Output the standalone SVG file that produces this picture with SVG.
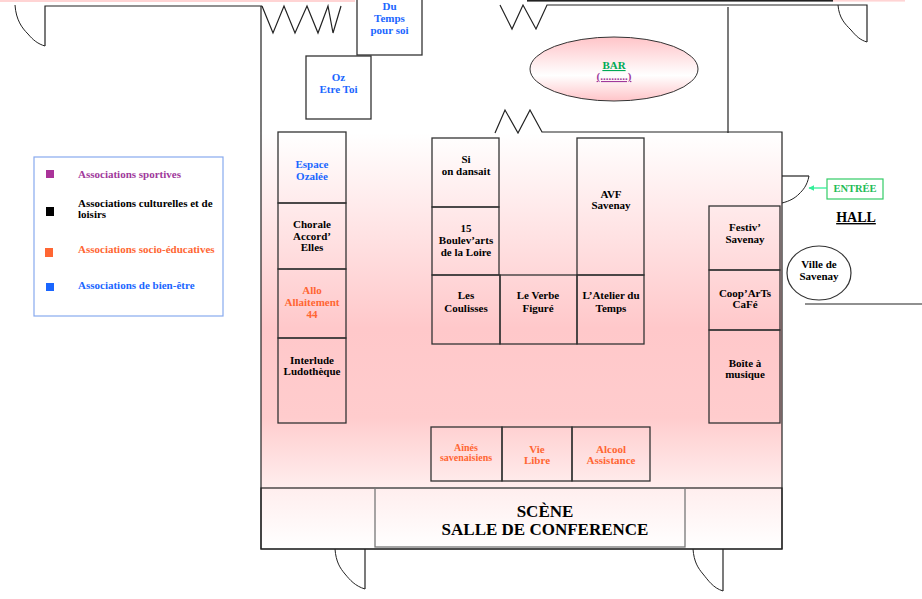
<svg xmlns="http://www.w3.org/2000/svg" width="922" height="599" viewBox="0 0 922 599">
<defs>
<linearGradient id="roomGrad" x1="0" y1="0" x2="0" y2="1">
<stop offset="0" stop-color="#ffffff"/>
<stop offset="0.55" stop-color="#ffc8ca"/>
<stop offset="0.8" stop-color="#ffcccd"/>
<stop offset="1" stop-color="#ffeeee"/>
</linearGradient>
<linearGradient id="stageGrad" x1="0" y1="0" x2="0" y2="1">
<stop offset="0" stop-color="#ffeeee"/>
<stop offset="1" stop-color="#ffffff"/>
</linearGradient>
<linearGradient id="barGrad" x1="0" y1="0" x2="0" y2="1">
<stop offset="0" stop-color="#ffc4c8"/>
<stop offset="0.6" stop-color="#ffffff"/>
<stop offset="1" stop-color="#ffc4c8"/>
</linearGradient>
<marker id="arrowG" viewBox="0 0 10 10" refX="9" refY="5" markerWidth="6" markerHeight="6" markerUnits="userSpaceOnUse" orient="auto">
<path d="M0,0 L10,5 L0,10 z" fill="#33ee99"/>
</marker>
<style>
text{font-family:"Liberation Serif","Times New Roman",serif;font-weight:bold;font-size:11px;text-anchor:middle}
.wall{fill:none;stroke:#222;stroke-width:1.2}
.door{fill:none;stroke:#222;stroke-width:1}
.booth{fill:none;stroke:#333;stroke-width:1.3}
.blk{fill:#000}
.blu{fill:#1a66ff}
.org{fill:#ff6633}
.pur{fill:#a0399b}
.leg{text-anchor:start}
</style>
</defs>

<!-- top strips -->
<rect x="0" y="0" width="355" height="2" fill="#ffd4d4"/>
<rect x="527" y="0" width="306" height="1.6" fill="#222"/>
<rect x="833" y="0" width="72" height="1.6" fill="#ffd4d4"/>

<!-- room fills -->
<rect x="261" y="133" width="521" height="355" fill="url(#roomGrad)"/>
<rect x="261" y="488" width="521" height="61" fill="url(#stageGrad)"/>

<!-- walls -->
<g id="walls">
<path class="wall" d="M45,46 L45,6 L262,6"/>
<path class="door" d="M15,5 C16,20 22,28 28,34 C33,40 38,44 45,46"/>
<path class="wall" d="M261,6 L261,549 L782,549 L782,132 L542,132 L530,110 L518,133 L505,110 L495,133"/>
<path class="wall" d="M262,6 L273,33 L284,6 L295,33 L307,6 L318,33 L328,6 L333,33 L341,6"/>
<path class="wall" d="M500,5 L512,29 L523,5 L536,29 L547,5 L867,5 L867,42"/>
<path class="door" d="M838,5 C839,18 845,24 851,30 C856,36 860,40 867,42"/>
<path class="wall" d="M728,7 L728,133"/>
<path class="wall" d="M782,176 L809,176"/>
<path class="door" d="M809,176 C807,186 803,190 799,194 C795,198 790,201 782,203"/>
<path class="wall" d="M805,304 L922,304"/>
<path class="wall" d="M365,549 L365,589"/>
<path class="door" d="M335,549 C336,562 340,568 345,574 C350,580 355,586 365,589"/>
<path class="wall" d="M723,549 L723,591"/>
<path class="door" d="M693,549 C694,562 698,568 703,574 C708,580 713,588 723,591"/>
<rect class="wall" x="261" y="488" width="521" height="61"/>
</g>

<!-- legend -->
<g id="legend">
<rect x="34" y="157" width="189" height="159" fill="none" stroke="#88aaee" stroke-width="1.2"/>
<rect x="46" y="170" width="8" height="8" fill="#aa3399"/>
<text class="leg pur" x="78" y="178">Associations sportives</text>
<rect x="46" y="207" width="8" height="9" fill="#000"/>
<text class="leg blk" x="78" y="207">Associations culturelles et de</text>
<text class="leg blk" x="78" y="218">loisirs</text>
<rect x="45" y="248" width="8" height="9" fill="#ff6633"/>
<text class="leg org" x="78" y="253">Associations socio-éducatives</text>
<rect x="46" y="283" width="8" height="8" fill="#1a66ff"/>
<text class="leg blu" x="78" y="289">Associations de bien-être</text>
</g>

<g id="du-temps-pour-soi">
<rect class="booth" x="357" y="-1" width="65" height="56" fill="#fff"/>
<text class="blu" x="389.5" y="10">Du</text>
<text class="blu" x="389.5" y="22">Temps</text>
<text class="blu" x="389.5" y="34">pour soi</text>
</g>
<g id="oz-etre-toi">
<rect class="booth" x="306" y="56" width="65" height="63" fill="#fff"/>
<text class="blu" x="338.5" y="81">Oz</text>
<text class="blu" x="338.5" y="93">Etre Toi</text>
</g>

<g id="bar">
<ellipse cx="614" cy="69" rx="84" ry="32" fill="url(#barGrad)" stroke="#333" stroke-width="1"/>
<text x="614" y="69" fill="#00aa55" text-decoration="underline">BAR</text>
<text x="614" y="80" fill="#a0399b" text-decoration="underline">(..........)</text>
</g>

<!-- left column -->
<g id="espace-ozalee">
<rect class="booth" x="278" y="132" width="68" height="71"/>
<text class="blu" x="312" y="168">Espace</text>
<text class="blu" x="312" y="180">Ozalée</text>
</g>
<g id="chorale">
<rect class="booth" x="278" y="203" width="68" height="66"/>
<text class="blk" x="312" y="228">Chorale</text>
<text class="blk" x="312" y="240">Accord’</text>
<text class="blk" x="312" y="251">Elles</text>
</g>
<g id="allo-allaitement">
<rect class="booth" x="278" y="269" width="68" height="69"/>
<text class="org" x="312" y="294">Allo</text>
<text class="org" x="312" y="306">Allaitement</text>
<text class="org" x="312" y="318">44</text>
</g>
<g id="interlude">
<rect class="booth" x="278" y="338" width="68" height="85"/>
<text class="blk" x="312" y="364">Interlude</text>
<text class="blk" x="312" y="375">Ludothèque</text>
</g>

<!-- middle blocks -->
<g id="si-on-dansait">
<rect class="booth" x="432" y="138" width="67" height="69"/>
<text class="blk" x="466" y="163">Si</text>
<text class="blk" x="466" y="175">on dansait</text>
</g>
<g id="boulevarts">
<rect class="booth" x="432" y="207" width="67" height="68"/>
<text class="blk" x="466" y="232">15</text>
<text class="blk" x="466" y="244">Boulev’arts</text>
<text class="blk" x="466" y="256">de la Loire</text>
</g>
<g id="les-coulisses">
<rect class="booth" x="432" y="275" width="68" height="69"/>
<text class="blk" x="466" y="299">Les</text>
<text class="blk" x="466" y="312">Coulisses</text>
</g>
<g id="le-verbe-figure">
<rect class="booth" x="500" y="275" width="77" height="69"/>
<text class="blk" x="538" y="299">Le Verbe</text>
<text class="blk" x="538" y="312">Figuré</text>
</g>
<g id="avf-savenay">
<rect class="booth" x="577" y="138" width="67" height="137"/>
<text class="blk" x="611" y="198">AVF</text>
<text class="blk" x="611" y="209">Savenay</text>
</g>
<g id="atelier-du-temps">
<rect class="booth" x="577" y="275" width="67" height="69"/>
<text class="blk" x="611" y="299">L’Atelier du</text>
<text class="blk" x="611" y="312">Temps</text>
</g>

<!-- right column -->
<g id="festiv-savenay">
<rect class="booth" x="709" y="206" width="71" height="64"/>
<text class="blk" x="745" y="231">Festiv’</text>
<text class="blk" x="745" y="243">Savenay</text>
</g>
<g id="coop-arts-cafe">
<rect class="booth" x="709" y="270" width="71" height="60"/>
<text class="blk" x="745" y="297">Coop’ArTs</text>
<text class="blk" x="745" y="308">CaFé</text>
</g>
<g id="boite-a-musique">
<rect class="booth" x="709" y="330" width="71" height="93"/>
<text class="blk" x="745" y="367">Boîte à</text>
<text class="blk" x="745" y="378">musique</text>
</g>

<!-- bottom row -->
<g id="aines-savenaisiens">
<rect class="booth" x="431" y="427" width="71" height="54"/>
<text class="org" x="466" y="451" style="font-size:10px">Aînés</text>
<text class="org" x="466" y="461" style="font-size:10px">savenaisiens</text>
</g>
<g id="vie-libre">
<rect class="booth" x="502" y="427" width="70" height="54"/>
<text class="org" x="537" y="453">Vie</text>
<text class="org" x="537" y="464">Libre</text>
</g>
<g id="alcool-assistance">
<rect class="booth" x="572" y="427" width="78" height="54"/>
<text class="org" x="611" y="453">Alcool</text>
<text class="org" x="611" y="464">Assistance</text>
</g>

<g id="scene">
<rect x="375" y="488" width="310" height="59" fill="none" stroke="#777" stroke-width="1.3"/>
<text x="545" y="517" style="font-size:17px"><tspan x="545" y="517">SCÈNE</tspan><tspan x="545" y="535">SALLE DE CONFERENCE</tspan></text>
</g>

<g id="entree">
<rect x="827" y="179" width="56" height="20" fill="#fff" stroke="#33cc66" stroke-width="1.2"/>
<text x="855" y="192" fill="#22bb55" style="font-size:10.5px">ENTRÉE</text>
</g>
<g id="hall">
<text x="856" y="222" fill="#000" style="font-size:14px" text-decoration="underline">HALL</text>
</g>
<g id="ville-de-savenay">
<ellipse cx="819" cy="273" rx="32" ry="27" fill="#fff" stroke="#333" stroke-width="1.2"/>
<text class="blk" x="819" y="268">Ville de</text>
<text class="blk" x="819" y="280">Savenay</text>
</g>

<g id="connectors">
<line x1="827" y1="188" x2="809" y2="188" stroke="#33ee99" stroke-width="1.3" marker-end="url(#arrowG)"/>
</g>
</svg>
